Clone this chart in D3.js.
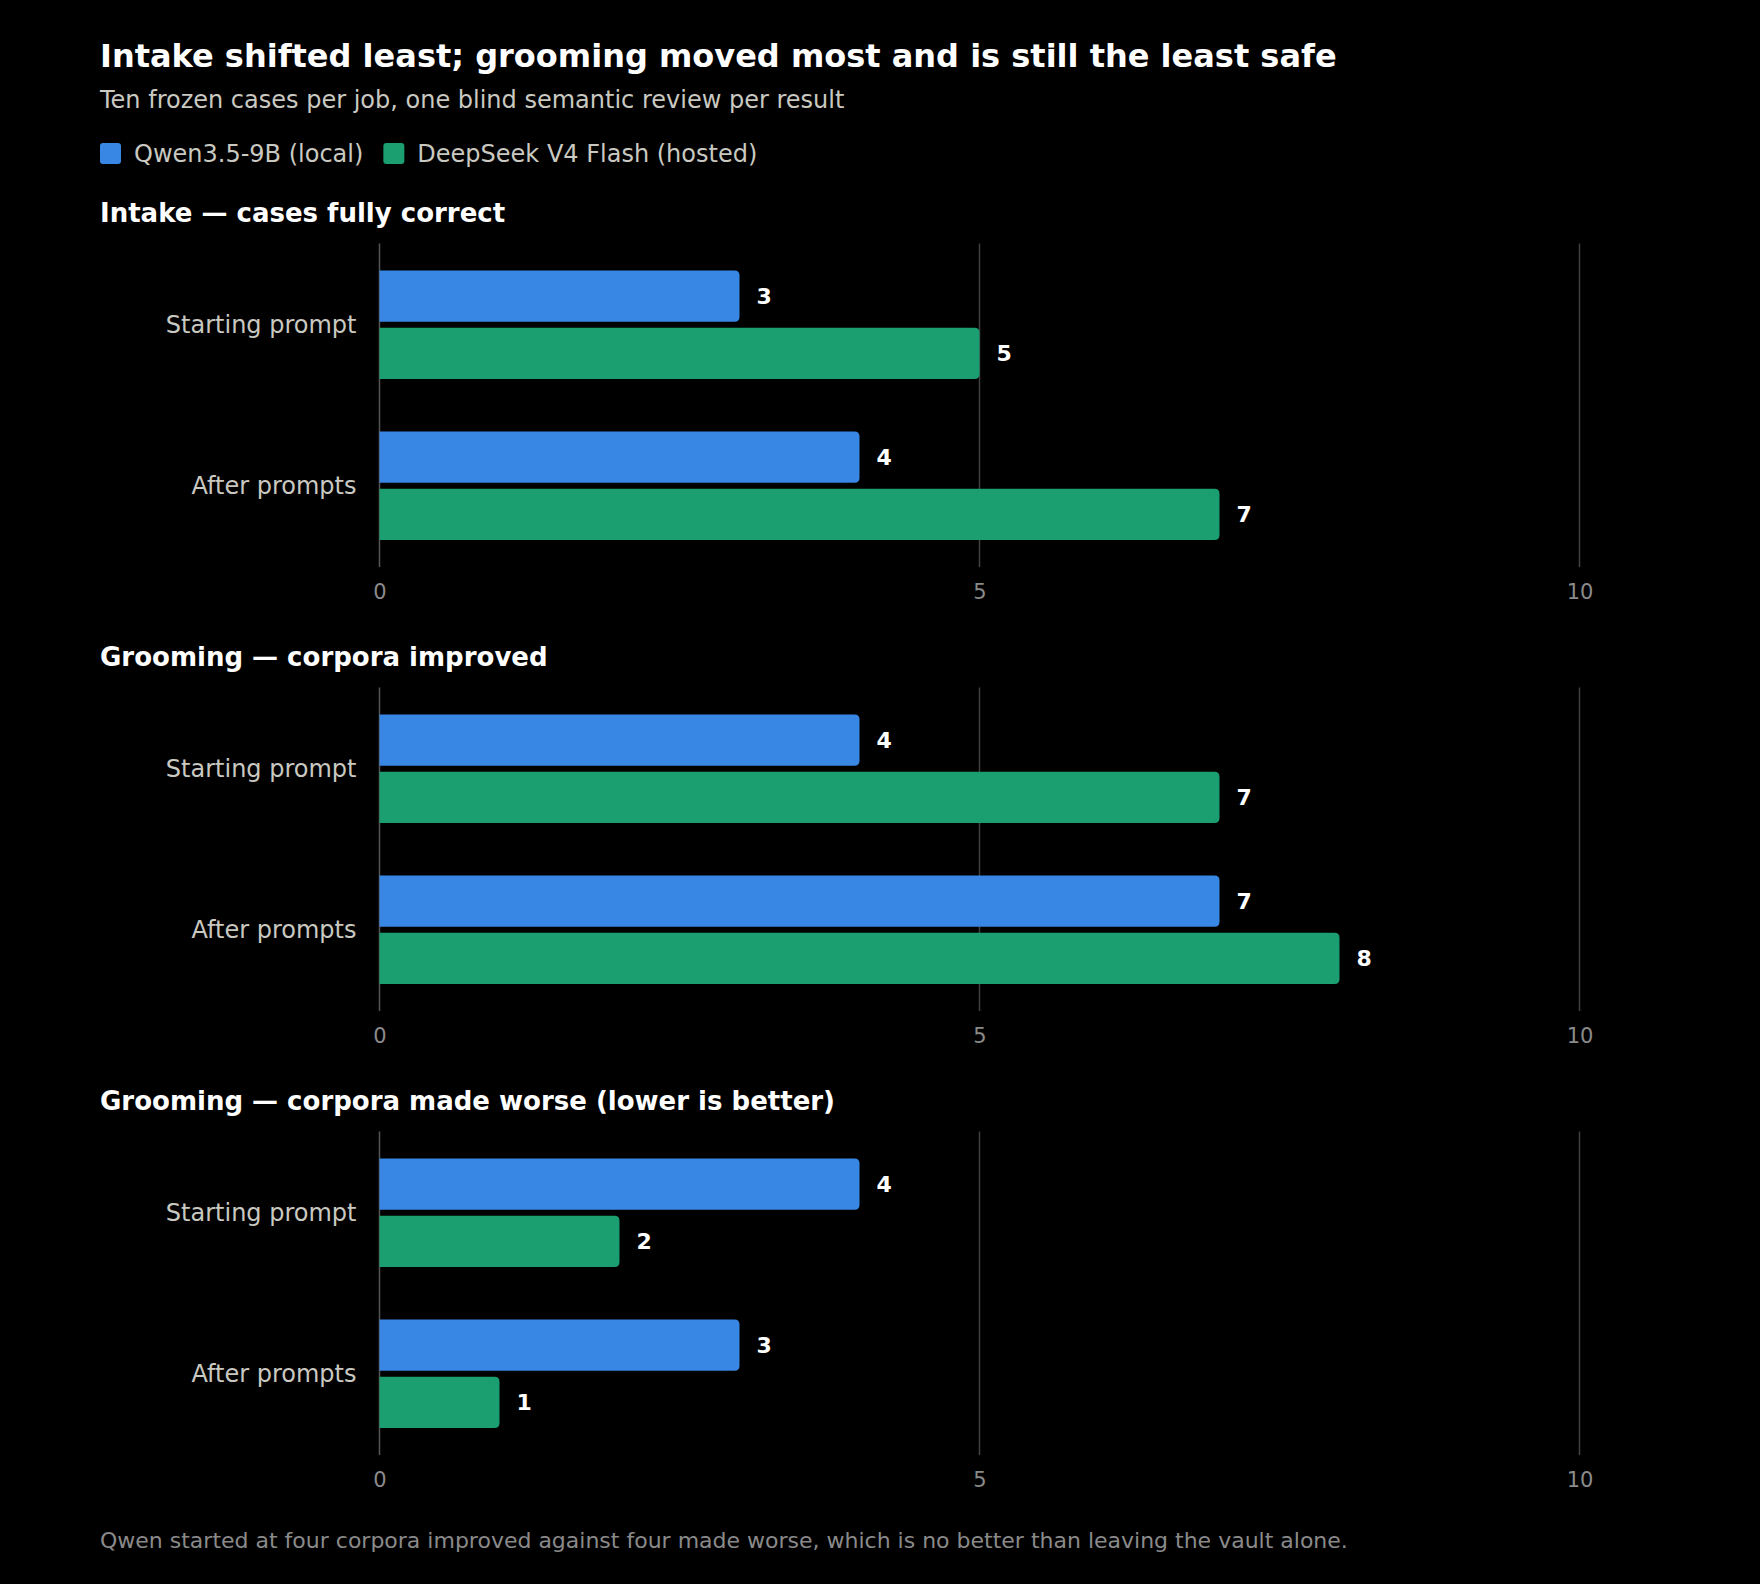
<!DOCTYPE html>
<html>
<head>
<meta charset="utf-8">
<script src="https://cdn.jsdelivr.net/npm/d3@7"></script>
<style>
  html, body { margin: 0; padding: 0; background: #000; }
  svg { display: block; }
  text { font-family: "DejaVu Sans", sans-serif; }
</style>
</head>
<body>
<svg id="chart" width="1760" height="1584"></svg>
<script>
// ---- data ----
const title = "Intake shifted least; grooming moved most and is still the least safe";
const subtitle = "Ten frozen cases per job, one blind semantic review per result";
const footnote = "Qwen started at four corpora improved against four made worse, which is no better than leaving the vault alone.";
const seriesNames = ["Qwen3.5-9B (local)", "DeepSeek V4 Flash (hosted)"];
const seriesColors = ["#3987e4", "#1b9e70"];
const categories = ["Starting prompt", "After prompts"];
const panelTitles = [
  "Intake \u2014 cases fully correct",
  "Grooming \u2014 corpora improved",
  "Grooming \u2014 corpora made worse (lower is better)"
];
const qwenValues = [[3, 4], [4, 7], [4, 3]];
const deepseekValues = [[5, 7], [7, 8], [2, 1]];
const xTicks = [0, 5, 10];
const xMax = 10;

// ---- layout ----
const W = 1760, H = 1584;
const left = 100;
const x0 = 379.5, x1 = 1579.5;
const panelTop = 243.5, panelH = 323.5, panelStep = 444;

const svg = d3.select("#chart");
svg.append("rect").attr("width", W).attr("height", H).attr("fill", "#000");

svg.append("text").attr("x", left).attr("y", 67)
  .attr("fill", "#ffffff").attr("font-size", 32).attr("font-weight", "bold")
  .text(title);
svg.append("text").attr("x", left).attr("y", 108)
  .attr("fill", "#c9c9c1").attr("font-size", 24)
  .text(subtitle);

// legend
const legend = svg.append("g");
let lx = left;
seriesNames.forEach((name, i) => {
  legend.append("rect").attr("x", lx).attr("y", 143).attr("width", 21).attr("height", 21)
    .attr("rx", 3).attr("fill", seriesColors[i]);
  const t = legend.append("text").attr("x", lx + 34).attr("y", 161.5)
    .attr("fill", "#c9c9c1").attr("font-size", 24).text(name);
  lx += 34 + t.node().getComputedTextLength() + 20;
});

const x = d3.scaleLinear().domain([0, xMax]).range([x0, x1]);

panelTitles.forEach((pt, p) => {
  const top = panelTop + p * panelStep;
  const g = svg.append("g");
  g.append("text").attr("x", left).attr("y", top - 22)
    .attr("fill", "#ffffff").attr("font-size", 26).attr("font-weight", "bold")
    .text(pt);

  const y = d3.scaleBand().domain(categories).range([top, top + panelH])
    .paddingInner(0.327).paddingOuter(0.167);
  const ySub = d3.scaleBand().domain([0, 1]).range([0, y.bandwidth()]).paddingInner(0.105);

  // gridlines
  g.selectAll("line.grid").data(xTicks).join("line")
    .attr("x1", d => x(d)).attr("x2", d => x(d))
    .attr("y1", top).attr("y2", top + panelH)
    .attr("stroke", d => d === 0 ? "#555" : "#404040").attr("stroke-width", 1.5);

  // tick labels via axis
  const axis = d3.axisBottom(x).tickValues(xTicks).tickSize(0).tickPadding(0).tickFormat(d3.format("d"));
  const ag = g.append("g").attr("transform", `translate(0,${top + panelH + 17})`).call(axis);
  ag.select(".domain").remove();
  ag.selectAll("text").attr("fill", "#8a8a8a").attr("font-size", 21)
    .attr("font-family", "DejaVu Sans, sans-serif").attr("dy", "0.71em");

  // category labels
  g.selectAll("text.cat").data(categories).join("text")
    .attr("class", "cat")
    .attr("x", x0 - 23).attr("y", d => y(d) + y.bandwidth() / 2)
    .attr("dy", "0.35em").attr("text-anchor", "end")
    .attr("fill", "#c9c9c1").attr("font-size", 24).text(d => d);

  const rows = [];
  categories.forEach((c, ci) => {
    [qwenValues[p][ci], deepseekValues[p][ci]].forEach((v, si) => {
      rows.push({ c, si, v });
    });
  });

  const r = 5;
  const barPath = d => {
    const bx = x(0), by = y(d.c) + ySub(d.si), bw = x(d.v) - x(0), bh = ySub.bandwidth();
    const rr = Math.min(r, bw, bh / 2);
    return `M${bx},${by}H${bx + bw - rr}Q${bx + bw},${by} ${bx + bw},${by + rr}` +
      `V${by + bh - rr}Q${bx + bw},${by + bh} ${bx + bw - rr},${by + bh}H${bx}Z`;
  };
  g.selectAll("path.bar").data(rows).join("path")
    .attr("class", "bar").attr("d", barPath).attr("fill", d => seriesColors[d.si]);

  g.selectAll("text.val").data(rows).join("text")
    .attr("class", "val")
    .attr("x", d => x(d.v) + 17)
    .attr("y", d => y(d.c) + ySub(d.si) + ySub.bandwidth() / 2)
    .attr("dy", "0.36em").attr("fill", "#ffffff").attr("font-size", 22).attr("font-weight", "bold")
    .text(d => d.v);
});

svg.append("text").attr("x", left).attr("y", 1548)
  .attr("fill", "#8a8a8a").attr("font-size", 22)
  .text(footnote);
</script>
</body>
</html>
